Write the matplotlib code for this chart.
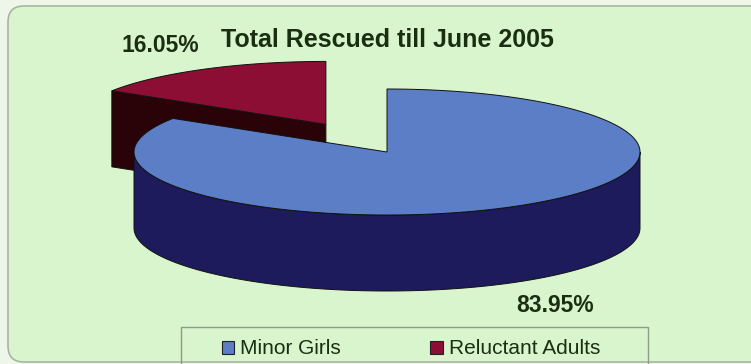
import numpy as np
import matplotlib.pyplot as plt
from matplotlib.patches import Polygon, FancyBboxPatch, Rectangle, Patch

# data
labels = ['Minor Girls', 'Reluctant Adults']
shares = [83.95, 16.05]
pct_labels = ['83.95%', '16.05%']
explode = [0.0, 0.5]
top_colors = ['#5b7ec6', '#8c0e34']
side_colors = ['#1e1b5c', '#2a0309']
title = 'Total Rescued till June 2005'

W, H = 751, 364
bg = '#d8f5cd'
txt = '#1c2e12'

fig = plt.figure(figsize=(W / 100, H / 100), dpi=100)
fig.patch.set_facecolor('#eef6ea')
ax = fig.add_axes([0, 0, 1, 1])
ax.set_xlim(0, W)
ax.set_ylim(H, 0)
ax.axis('off')

# chart area
ax.add_patch(FancyBboxPatch((8, 6), 770, 356, boxstyle='round,pad=0,rounding_size=16',
                            facecolor=bg, edgecolor='#a9b5a4', lw=1.2))

# 3d pie geometry (y down)
cx, cy = 387, 152
rx, ry = 253, 63
depth = 76


def pt(x0, y0, th, dz=0):
    t = np.radians(th)
    return np.column_stack([x0 + rx * np.cos(t), y0 - ry * np.sin(t) + dz])


wedges = []
start = 90.0
for i, s in enumerate(shares):
    a0 = start
    a1 = start - s * 3.6
    start = a1
    mid = np.radians((a0 + a1) / 2)
    ox = cx + explode[i] * rx * np.cos(mid)
    oy = cy - explode[i] * ry * np.sin(mid)
    wedges.append((i, a1, a0, ox, oy))

# draw back-most first
wedges.sort(key=lambda w: w[4])
ec = '#111111'
for i, a1, a0, ox, oy in wedges:
    # radial faces
    for ang, nrm in ((a0, a0 + 90), (a1, a1 - 90)):
        if np.sin(np.radians(nrm)) < -1e-6:
            tip = pt(ox, oy, ang)[0]
            face = [(ox, oy), tip, (tip[0], tip[1] + depth), (ox, oy + depth)]
            ax.add_patch(Polygon(face, closed=True, facecolor=side_colors[i], edgecolor=ec, lw=0.7))
    # outer side, front half only
    for k in range(-1, 2):
        lo = max(a1, 180 + 360 * k)
        hi = min(a0, 360 + 360 * k)
        if hi > lo:
            th = np.linspace(lo, hi, 120)
            top = pt(ox, oy, th)
            bot = pt(ox, oy, th[::-1], depth)
            ax.add_patch(Polygon(np.vstack([top, bot]), closed=True,
                                 facecolor=side_colors[i], edgecolor=ec, lw=0.7))
    # top face
    th = np.linspace(a1, a0, 300)
    arc = pt(ox, oy, th)
    poly = np.vstack([[ox, oy], arc])
    ax.add_patch(Polygon(poly, closed=True, facecolor=top_colors[i], edgecolor=ec, lw=0.7))

# texts
ax.text(387, 40, title, ha='center', va='center', fontsize=18, fontweight='bold',
        color=txt, family='Liberation Sans')
ax.text(160, 46, pct_labels[1], ha='center', va='center', fontsize=16.5, fontweight='bold',
        color=txt, family='Liberation Sans')
ax.text(555, 305, pct_labels[0], ha='center', va='center', fontsize=16.5, fontweight='bold',
        color=txt, family='Liberation Sans')

# legend
ax.add_patch(Rectangle((181, 327), 467, 60, facecolor='none', edgecolor='#8f9a8a', lw=1.0))
handles = [Patch(facecolor=top_colors[0], edgecolor='#222222', lw=0.8),
           Patch(facecolor=top_colors[1], edgecolor='#222222', lw=0.8)]
ax.legend(handles, labels, loc='center', bbox_to_anchor=(411 / W, 1 - 349 / H),
          ncol=2, frameon=False, handlelength=0.58, handleheight=0.58, handletextpad=0.3,
          columnspacing=4.3, prop={'family': 'Liberation Sans', 'size': 15},
          labelcolor=txt)

fig.savefig('out.png', dpi=100, facecolor=fig.get_facecolor())
